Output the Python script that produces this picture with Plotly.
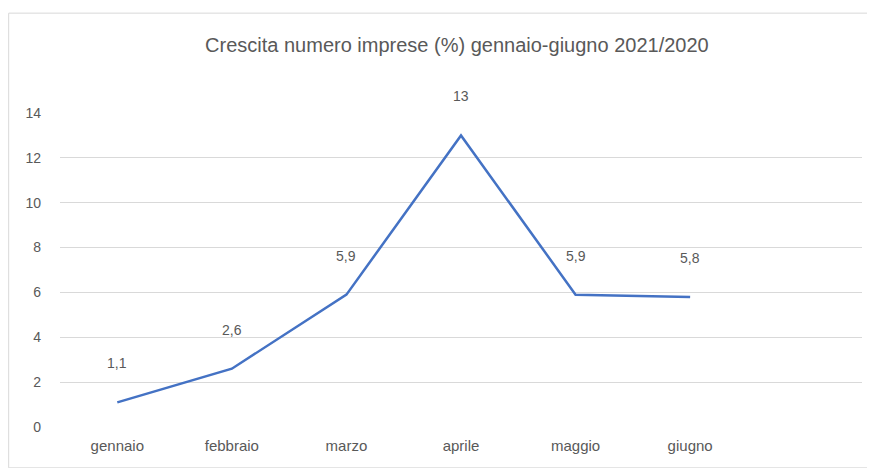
import plotly.graph_objects as go

# Crescita numero imprese (%) gennaio-giugno 2021/2020
mesi = ["gennaio", "febbraio", "marzo", "aprile", "maggio", "giugno"]
crescita = [1.1, 2.6, 5.9, 13.0, 5.9, 5.8]
etichette = ["1,1", "2,6", "5,9", "13", "5,9", "5,8"]
y_ticks = [0, 2, 4, 6, 8, 10, 12, 14]

GREY = "#595959"
BLUE = "#4472C4"

fig = go.Figure()
fig.add_trace(go.Scatter(x=mesi, y=crescita, mode="lines",
                         line=dict(color=BLUE, width=2.5), hoverinfo="skip"))

for m, v, t in zip(mesi, crescita, etichette):
    fig.add_annotation(x=m, y=v, text=t, showarrow=False, yshift=39,
                       font=dict(size=14, color=GREY))

# border around chart area
fig.add_shape(type="rect", xref="paper", yref="paper",
              x0=-0.064, x1=1.0137, y0=-0.13, y1=1.318,
              line=dict(color="#d9d9d9", width=1))

fig.update_layout(
    width=875, height=468,
    margin=dict(l=52, r=21, t=105, b=49),
    paper_bgcolor="white", plot_bgcolor="white",
    showlegend=False,
    font=dict(family="Liberation Sans, Arial", color=GREY, size=14),
    title=dict(text="Crescita numero imprese (%) gennaio-giugno 2021/2020",
               x=0.513, xanchor="center", y=0.921, yanchor="middle",
               font=dict(size=20, color=GREY)),
)
fig.update_xaxes(type="category", categoryarray=mesi, range=[-0.5, 6.5],
                 showgrid=False, showline=False, ticks="", ticklabelstandoff=8,
                 tickfont=dict(size=15, color=GREY))
fig.update_yaxes(range=[0, 14], tickvals=y_ticks, showgrid=True,
                 gridcolor="#d9d9d9", gridwidth=1, zeroline=False,
                 showline=False, ticks="", ticklabelstandoff=18,
                 tickfont=dict(size=14, color=GREY))

fig.write_html("out.html")
